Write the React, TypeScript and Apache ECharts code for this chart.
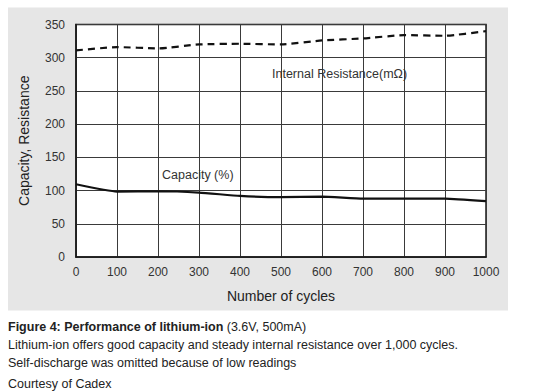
import React, { useEffect, useRef } from "react";
import * as echarts from "echarts";

const cycles = [0, 100, 200, 300, 400, 500, 600, 700, 800, 900, 1000];
const resistance = [311, 316, 314, 320, 321, 320, 326, 329, 334, 333, 340];
const capacity = [109.5, 98.5, 99, 97, 92, 90, 91, 88, 88, 88, 84];

const xTitle = "Number of cycles";
const yTitle = "Capacity, Resistance";
const resistanceLabel = "Internal Resistance(mΩ)";
const capacityLabel = "Capacity (%)";
const captionBold = "Figure 4: Performance of lithium-ion";
const captionRest = " (3.6V, 500mA)";
const captionLine2 = "Lithium-ion offers good capacity and steady internal resistance over 1,000 cycles.";
const captionLine3 = "Self-discharge was omitted because of low readings";
const courtesy = "Courtesy of Cadex";

const FONT = "'Liberation Sans', Arial, sans-serif";

export default function App() {
  const ref = useRef<HTMLDivElement>(null);
  useEffect(() => {
    if (!ref.current) return;
    const chart = echarts.init(ref.current, undefined, { renderer: "svg" });
    chart.setOption({
      animation: false,
      backgroundColor: "#ffffff",
      textStyle: { fontFamily: FONT },
      grid: {
        left: 76,
        right: 54,
        top: 24.5,
        bottom: 134,
        show: true,
        backgroundColor: "#ffffff",
        borderColor: "#1a1a1a",
        borderWidth: 1.5,
      },
      xAxis: {
        type: "value",
        min: 0,
        max: 1000,
        interval: 100,
        z: 2,
        name: xTitle,
        nameLocation: "middle",
        nameGap: 32,
        nameTextStyle: { fontSize: 14, color: "#222", fontFamily: FONT },
        axisLine: { show: true, lineStyle: { color: "#1a1a1a", width: 1.5 } },
        axisTick: { show: false },
        axisLabel: {
          fontSize: 12,
          color: "#333",
          margin: 9,
          fontFamily: FONT,
          formatter: (v: number) => String(v),
        },
        splitLine: { show: true, lineStyle: { color: "#3a3a3a", width: 1 } },
      },
      yAxis: {
        type: "value",
        min: 0,
        max: 350,
        interval: 50,
        z: 2,
        name: yTitle,
        nameLocation: "middle",
        nameGap: 45,
        nameTextStyle: { fontSize: 14, color: "#222", fontFamily: FONT },
        axisLine: { show: true, lineStyle: { color: "#1a1a1a", width: 1.5 } },
        axisTick: { show: false },
        axisLabel: { fontSize: 12, color: "#333", margin: 11, fontFamily: FONT },
        splitLine: { show: true, lineStyle: { color: "#3a3a3a", width: 1 } },
      },
      series: [
        {
          type: "line",
          data: cycles.map((c, i) => [c, resistance[i]]),
          smooth: 0.15,
          symbol: "none",
          lineStyle: { color: "#111", width: 2.2, type: [7, 5] },
          z: 3,
        },
        {
          type: "line",
          data: cycles.map((c, i) => [c, capacity[i]]),
          smooth: 0.15,
          symbol: "none",
          lineStyle: { color: "#111", width: 2.2 },
          z: 3,
        },
      ],
      graphic: [
        {
          type: "rect",
          z: -10,
          silent: true,
          shape: { x: 8, y: 7.5, width: 500, height: 303 },
          style: { fill: "#e6e6e6" },
        },
        {
          type: "text",
          z: 10,
          x: 272,
          y: 74,
          style: {
            text: resistanceLabel,
            fontSize: 12.5,
            fontFamily: FONT,
            fill: "#333",
            verticalAlign: "middle",
          },
        },
        {
          type: "text",
          z: 10,
          x: 162,
          y: 175,
          style: {
            text: capacityLabel,
            fontSize: 12.5,
            fontFamily: FONT,
            fill: "#333",
            verticalAlign: "middle",
          },
        },
        {
          type: "text",
          z: 10,
          x: 8,
          y: 327,
          style: {
            text: "{b|" + captionBold + "}{n|" + captionRest + "}",
            verticalAlign: "middle",
            rich: {
              b: { fontSize: 12.5, fontWeight: "bold", fontFamily: FONT, fill: "#222", color: "#222" },
              n: { fontSize: 12.5, fontFamily: FONT, fill: "#222", color: "#222" },
            },
          },
        },
        {
          type: "text",
          z: 10,
          x: 8,
          y: 345,
          style: { text: captionLine2, fontSize: 12.5, fontFamily: FONT, fill: "#222", verticalAlign: "middle" },
        },
        {
          type: "text",
          z: 10,
          x: 8,
          y: 363,
          style: { text: captionLine3, fontSize: 12.5, fontFamily: FONT, fill: "#222", verticalAlign: "middle" },
        },
        {
          type: "text",
          z: 10,
          x: 8,
          y: 383.5,
          style: { text: courtesy, fontSize: 12.5, fontFamily: FONT, fill: "#222", verticalAlign: "middle" },
        },
      ],
    });
    return () => chart.dispose();
  }, []);
  return (
    <div
      ref={ref}
      style={{ position: "fixed", left: 0, top: 0, width: 540, height: 391 }}
    />
  );
}
